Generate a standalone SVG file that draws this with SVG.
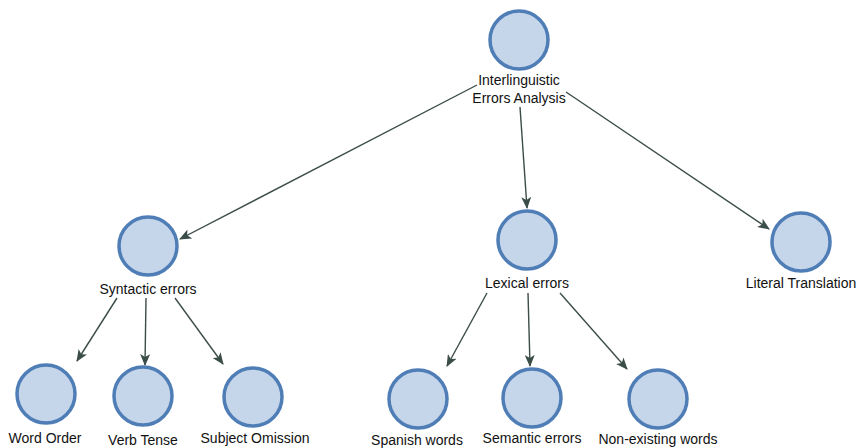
<svg xmlns="http://www.w3.org/2000/svg" width="860" height="448" viewBox="0 0 860 448">
<defs>
<style>
.n{fill:#c5d5ea;stroke:#4f7db6;stroke-width:3.5}
.t{font-family:"Liberation Sans",Arial,sans-serif;font-size:14px;fill:#111;text-anchor:middle}
.e{stroke:#3b4d48;stroke-width:1.4;fill:none;marker-end:url(#a)}
</style>
<marker id="a" viewBox="0 0 12 10" refX="11" refY="5" markerWidth="12" markerHeight="10" markerUnits="userSpaceOnUse" orient="auto">
<path d="M0,0 L12,5 L0,10 L3,5 Z" fill="#3b4d48"/>
</marker>
</defs>
<rect width="860" height="448" fill="#fff"/>
<g id="connectors">
<line class="e" x1="477" y1="85" x2="180" y2="239"/>
<line class="e" x1="520" y1="107" x2="527" y2="208"/>
<line class="e" x1="566" y1="92" x2="769" y2="229"/>
<line class="e" x1="117" y1="298" x2="77" y2="361"/>
<line class="e" x1="146" y1="298" x2="145" y2="365"/>
<line class="e" x1="175" y1="298" x2="223" y2="364"/>
<line class="e" x1="487" y1="293" x2="447" y2="366"/>
<line class="e" x1="528" y1="293" x2="530" y2="366"/>
<line class="e" x1="560" y1="293" x2="627" y2="369"/>
</g>
<g id="n-root"><circle class="n" cx="519" cy="40" r="29"/><text class="t" x="519" y="85">Interlinguistic</text><text class="t" x="519" y="103">Errors Analysis</text></g>
<g id="n-syntactic"><circle class="n" cx="148" cy="246" r="29"/><text class="t" x="148" y="294">Syntactic errors</text></g>
<g id="n-lexical"><circle class="n" cx="527" cy="240" r="29"/><text class="t" x="527" y="288">Lexical errors</text></g>
<g id="n-literal"><circle class="n" cx="801" cy="242" r="29"/><text class="t" x="801" y="288">Literal Translation</text></g>
<g id="n-word"><circle class="n" cx="46" cy="394" r="29"/><text class="t" x="45" y="443">Word Order</text></g>
<g id="n-verb"><circle class="n" cx="143" cy="396" r="29"/><text class="t" x="143" y="445">Verb Tense</text></g>
<g id="n-subject"><circle class="n" cx="253" cy="397" r="29"/><text class="t" x="255" y="443">Subject Omission</text></g>
<g id="n-spanish"><circle class="n" cx="418" cy="399" r="29"/><text class="t" x="417" y="445">Spanish words</text></g>
<g id="n-semantic"><circle class="n" cx="532" cy="398" r="29"/><text class="t" x="532" y="443">Semantic errors</text></g>
<g id="n-nonexisting"><circle class="n" cx="658" cy="399" r="29"/><text class="t" x="658" y="444">Non-existing words</text></g>
</svg>
